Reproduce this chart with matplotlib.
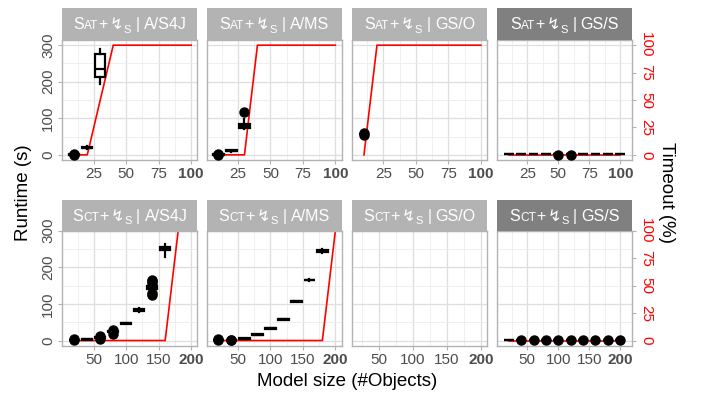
import matplotlib
matplotlib.use("Agg")
import matplotlib.pyplot as plt
from matplotlib.ticker import FixedLocator

plt.rcParams['font.family'] = ['Liberation Sans', 'DejaVu Sans']

# ----------------------------
# Data
# ----------------------------
top_sizes = [10, 20, 30, 40, 50, 60, 70, 80, 90, 100]
bot_sizes = [20, 40, 60, 80, 100, 120, 140, 160, 180, 200]

top_xticks = [25, 50, 75, 100]
bot_xticks = [50, 100, 150, 200]
top_xminor = [12.5, 37.5, 62.5, 87.5]
bot_xminor = [25, 75, 125, 175]
y_ticks = [0, 100, 200, 300]
y_minor = [50, 150, 250]
timeout_ticks = [0, 25, 50, 75, 100]

columns = ["A/S4J", "A/MS", "GS/O", "GS/S"]
rows = ["Sat", "Sct"]

# timeout percentage per model size
sat_s4j_timeout = [0, 0, 50, 100, 100, 100, 100, 100, 100, 100]
sat_ms_timeout = [0, 0, 0, 100, 100, 100, 100, 100, 100, 100]
sat_gso_timeout = [0, 100, 100, 100, 100, 100, 100, 100, 100, 100]
sat_gss_timeout = [0, 0, 0, 0, 0, 0, 0, 0, 0, 0]
sct_s4j_timeout = [0, 0, 0, 0, 0, 0, 0, 0, 100, 100]
sct_ms_timeout = [0, 0, 0, 0, 0, 0, 0, 0, 0, 100]
sct_gso_timeout = [100, 100, 100, 100, 100, 100, 100, 100, 100, 100]
sct_gss_timeout = [0, 0, 0, 0, 0, 0, 0, 0, 0, 0]

# runtime boxes: x -> (whisker low, q1, median, q3, whisker high, outliers)
sat_s4j_x = [10, 20, 30]
sat_s4j_box = [(0, 0.5, 1, 1.5, 2.5, [0.3, 3.5]),
               (17, 19, 20, 21, 23, []),
               (193, 213, 235, 275, 290, [])]
sat_ms_x = [10, 20, 30]
sat_ms_box = [(0, 0.5, 1, 1.5, 2.5, [0.3, 3]),
              (9, 10, 11, 12, 13, []),
              (70, 73, 78, 83, 99, [117])]
sat_gso_x = [10]
sat_gso_box = [(55, 56, 57, 58, 59, [54, 60])]
sat_gss_x = [10, 20, 30, 40, 50, 60, 70, 80, 90, 100]
sat_gss_box = [(1, 1.5, 2, 2.5, 3, []), (1, 1.5, 2, 2.5, 3, []),
               (1, 1.5, 2, 2.5, 3, []), (1, 1.5, 2, 2.5, 3, []),
               (1, 1.5, 2, 2.5, 3, [0.5]), (1, 1.5, 2, 2.5, 3, [0.5]),
               (1, 1.5, 2, 2.5, 3, []), (1, 1.5, 2, 2.5, 3, []),
               (1, 1.5, 2, 2.5, 3, []), (1, 1.5, 2, 2.5, 3, [])]

sct_s4j_x = [20, 40, 60, 80, 100, 120, 140, 160]
sct_s4j_box = [(0, 0.5, 1, 1.5, 2, [0.2, 3]),
               (2, 2.5, 3, 3.5, 4, []),
               (5, 7, 8, 9, 10, [4, 12]),
               (20, 22, 24, 26, 28, [18, 30]),
               (45, 46, 47, 48, 49, []),
               (78, 81, 83, 85, 88, []),
               (135, 140, 144, 148, 152, [125, 130, 158, 163, 166]),
               (229, 246, 251, 256, 265, [])]
sct_ms_x = [20, 40, 60, 80, 100, 120, 140, 160, 180]
sct_ms_box = [(0, 0.5, 1, 1.5, 2, [0.2, 3]),
              (0, 0.5, 1, 1.5, 2, [0.5, 2.5]),
              (4, 4.5, 5, 5.5, 6, []),
              (14, 15, 16, 17, 18, []),
              (31, 32, 33, 34, 35, []),
              (56, 57, 58, 59, 60, []),
              (105, 106, 107, 108, 109, []),
              (163, 164, 165, 166, 167, []),
              (239, 243, 245, 247, 250, [])]
sct_gso_x = []
sct_gso_box = []
sct_gss_x = [20, 40, 60, 80, 100, 120, 140, 160, 180, 200]
sct_gss_box = [(0.5, 1, 1.5, 2, 2.5, []), (0.5, 1, 1.5, 2, 2.5, [0.5]),
               (0.5, 1, 1.5, 2, 2.5, [0.5]), (0.5, 1, 1.5, 2, 2.5, [0.5]),
               (0.5, 1, 1.5, 2, 2.5, [0.5]), (0.5, 1, 1.5, 2, 2.5, [0.5]),
               (0.5, 1, 1.5, 2, 2.5, [0.5]), (0.5, 1, 1.5, 2, 2.5, [0.5]),
               (0.5, 1, 1.5, 2, 2.5, [0.5]), (0.5, 1, 1.5, 2, 2.5, [0.5])]

panels = [
    [(sat_s4j_x, sat_s4j_box, sat_s4j_timeout), (sat_ms_x, sat_ms_box, sat_ms_timeout),
     (sat_gso_x, sat_gso_box, sat_gso_timeout), (sat_gss_x, sat_gss_box, sat_gss_timeout)],
    [(sct_s4j_x, sct_s4j_box, sct_s4j_timeout), (sct_ms_x, sct_ms_box, sct_ms_timeout),
     (sct_gso_x, sct_gso_box, sct_gso_timeout), (sct_gss_x, sct_gss_box, sct_gss_timeout)],
]

# ----------------------------
# Layout (pixels)
# ----------------------------
W, H = 710, 396
fig = plt.figure(figsize=(W / 100, H / 100), dpi=100)

col_left = [62.3, 206.5, 352, 497]
col_w = 135
row_plot = [(39.7, 160.3), (230.7, 346)]
row_strip = [(8, 39.7), (200, 230.7)]
row_ylim = [(-15, 315), (-15, 300)]
row_sizes = [top_sizes, bot_sizes]
row_res = [10, 20]
row_xticks = [top_xticks, bot_xticks]
row_xminor = [top_xminor, bot_xminor]

grey_txt = "#4d4d4d"
border = "#b3b3b3"
tick_size = 11


def fig_rect(x0, y0, x1, y1):
    return [x0 / W, 1 - y1 / H, (x1 - x0) / W, (y1 - y0) / H]


def strip_label(sax, row, col):
    r = fig.canvas.get_renderer()
    big, small, sub = 11.5, 8.6, 8.0
    pieces = [(row[0], big, 0, 0), (row[1:].upper(), small, 0, 0.3), ("+", big, 0, 0.3),
              ("\u21af", big, 0, 2), ("S", sub, -3.5, 0.3), ("|", big, 0, 4.5), (col, big, 0, 4.5)]
    texts = []
    total = 0
    for s, size, dy, gap in pieces:
        t = fig.text(0, 0, s, fontsize=size, color="white", va="baseline", ha="left")
        w = t.get_window_extent(r).width
        texts.append((t, w, dy, gap))
        total += w + gap
    bb = sax.get_window_extent(r)
    x = (bb.x0 + bb.x1) / 2 - total / 2
    base = (bb.y0 + bb.y1) / 2 - 5.6
    for t, w, dy, gap in texts:
        x += gap
        t.set_position((x / W, (base + dy) / H))
        x += w


for ri in range(2):
    for ci in range(4):
        bx, bstats, tout = panels[ri][ci]
        x0 = col_left[ci]
        y0, y1 = row_plot[ri]
        ax = fig.add_axes(fig_rect(x0, y0, x0 + col_w, y1))
        sizes = row_sizes[ri]
        res = row_res[ri]

        # x range like ggplot: box widths + 5% expansion
        lo = min(sizes)
        hi = max(sizes)
        if bx:
            lo = min(lo, min(bx) - 0.45 * res)
            hi = max(hi, max(bx) + 0.45 * res)
        pad = 0.05 * (hi - lo)
        ax.set_xlim(lo - pad, hi + pad)
        ax.set_ylim(*row_ylim[ri])

        # timeout line on the runtime scale (100% -> 300 s)
        ax.plot(sizes, [v * 3 for v in tout], color="red", lw=1.2, zorder=2)

        if bx:
            stats = []
            for s in bstats:
                stats.append(dict(whislo=s[0], q1=s[1], med=s[2], q3=s[3],
                                  whishi=s[4], fliers=s[5]))
            ax.bxp(stats, positions=bx, widths=0.8 * res, patch_artist=True,
                   showcaps=False, manage_ticks=False,
                   boxprops=dict(facecolor="white", edgecolor="black", linewidth=1.6),
                   medianprops=dict(color="black", linewidth=1.6),
                   whiskerprops=dict(color="black", linewidth=1.6),
                   flierprops=dict(marker="o", markerfacecolor="black",
                                   markeredgecolor="black", markersize=6.5),
                   zorder=3)

        ax.xaxis.set_major_locator(FixedLocator(row_xticks[ri]))
        ax.xaxis.set_minor_locator(FixedLocator(row_xminor[ri]))
        ax.yaxis.set_major_locator(FixedLocator(y_ticks))
        ax.yaxis.set_minor_locator(FixedLocator(y_minor))
        ax.set_xticklabels([str(v) for v in row_xticks[ri]])
        ax.get_xticklabels()[-1].set_fontweight("bold")
        ax.grid(True, which="major", color="#dedede", lw=0.9, zorder=0)
        ax.grid(True, which="minor", color="#ececec", lw=0.6, zorder=0)
        ax.set_axisbelow(True)
        ax.tick_params(which="minor", length=0)
        ax.tick_params(axis="x", which="major", length=3, color=border, width=0.8,
                       labelsize=tick_size, labelcolor=grey_txt, pad=2)
        if ci == 0:
            ax.tick_params(axis="y", which="major", length=3, color=border, width=0.8,
                           labelsize=tick_size, labelcolor=grey_txt, labelrotation=90, pad=2)
            for lab in ax.get_yticklabels():
                lab.set_va("center")
        else:
            ax.tick_params(axis="y", which="major", length=0, labelleft=False)
        for sp in ax.spines.values():
            sp.set_color(border)
            sp.set_linewidth(1.0)

        if ci == 3:
            tw = ax.twinx()
            tw.set_ylim(row_ylim[ri][0] / 3, row_ylim[ri][1] / 3)
            tw.yaxis.set_major_locator(FixedLocator(timeout_ticks))
            tw.tick_params(axis="y", length=3, color=border, width=0.8, labelsize=tick_size,
                           labelcolor="red", labelrotation=-90, pad=2)
            for lab in tw.get_yticklabels():
                lab.set_va("center")
            for sp in tw.spines.values():
                sp.set_visible(False)

        # facet strip
        s0, s1 = row_strip[ri]
        sax = fig.add_axes(fig_rect(x0, s0, x0 + col_w, s1))
        sax.set_facecolor("#808080" if ci == 3 else "#b3b3b3")
        sax.set_xticks([])
        sax.set_yticks([])
        for sp in sax.spines.values():
            sp.set_visible(False)
        strip_label(sax, rows[ri], columns[ci])

fig.text(24 / W, 1 - 193 / H, "Runtime (s)", rotation=90, fontsize=13.5,
         ha="center", va="center")
fig.text(667 / W, 1 - 193 / H, "Timeout (%)", rotation=-90, fontsize=13.5,
         ha="center", va="center")
fig.text(347 / W, 1 - 381 / H, "Model size (#Objects)", fontsize=13.5,
         ha="center", va="center")

fig.savefig("out.png", dpi=100)
